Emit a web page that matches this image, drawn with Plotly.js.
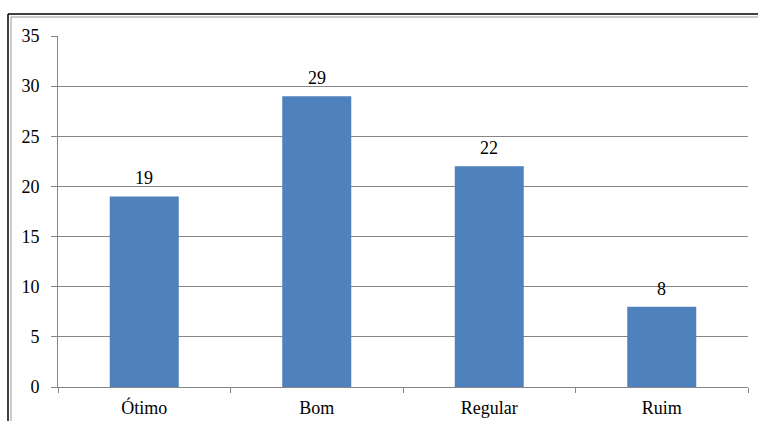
<!DOCTYPE html>
<html>
<head>
<meta charset="utf-8">
<script src="https://cdn.plot.ly/plotly-3.0.1.min.js"></script>
<style>html,body{margin:0;padding:0;background:#fff;}#chart{width:758px;height:421px;}</style>
</head>
<body>
<div id="chart"></div>
<script>
const categories = ["Ótimo", "Bom", "Regular", "Ruim"];
const values = [19, 29, 22, 8];
const yTicks = [0, 5, 10, 15, 20, 25, 30, 35];

const W = 758, H = 421, L = 58, R = 10, T = 36, B = 34;
const pw = W - L - R, ph = H - T - B;
const px = x => (x - L) / pw;
const py = y => (H - B - y) / ph;

const font = {family: "Liberation Serif, DejaVu Serif, serif", size: 18, color: "#000"};

const trace = {
  type: "bar",
  x: categories,
  y: values,
  width: 0.4,
  marker: {color: "#4F81BD"},
  hoverinfo: "none"
};

const labels = categories.map((c, i) => ({
  x: c, y: values[i], xref: "x", yref: "y",
  text: String(values[i]),
  showarrow: false,
  yanchor: "bottom",
  yshift: 6,
  font: font
}));

const layout = {
  width: W, height: H,
  margin: {l: L, r: R, t: T, b: B, pad: 0},
  paper_bgcolor: "#fff",
  plot_bgcolor: "#fff",
  showlegend: false,
  font: font,
  annotations: labels,
  xaxis: {
    type: "category",
    showgrid: false,
    showline: true,
    linecolor: "#868686",
    linewidth: 1,
    ticks: "outside",
    ticklen: 5,
    tickcolor: "#868686",
    tickson: "boundaries",
    tickfont: font,
    ticklabelstandoff: 4,
    range: [-0.5, 3.5],
    fixedrange: true
  },
  yaxis: {
    range: [0, 35],
    tickvals: yTicks,
    ticktext: yTicks.map(String),
    showgrid: true,
    gridcolor: "#868686",
    gridwidth: 1,
    zeroline: false,
    showline: true,
    linecolor: "#868686",
    ticks: "outside",
    ticklen: 6,
    tickcolor: "#868686",
    tickfont: font,
    ticklabelstandoff: 8,
    fixedrange: true
  },
  shapes: [
    {type: "line", xref: "paper", yref: "paper", x0: px(8), x1: px(758), y0: py(14), y1: py(14), line: {color: "#000", width: 1.5}},
    {type: "line", xref: "paper", yref: "paper", x0: px(11), x1: px(758), y0: py(17), y1: py(17), line: {color: "#999", width: 1}},
    {type: "line", xref: "paper", yref: "paper", x0: px(8), x1: px(8), y0: py(14), y1: py(421), line: {color: "#000", width: 1.5}},
    {type: "line", xref: "paper", yref: "paper", x0: px(11), x1: px(11), y0: py(17), y1: py(421), line: {color: "#999", width: 1}}
  ]
};

Plotly.newPlot("chart", [trace], layout, {displayModeBar: false, staticPlot: true});
</script>
</body>
</html>
